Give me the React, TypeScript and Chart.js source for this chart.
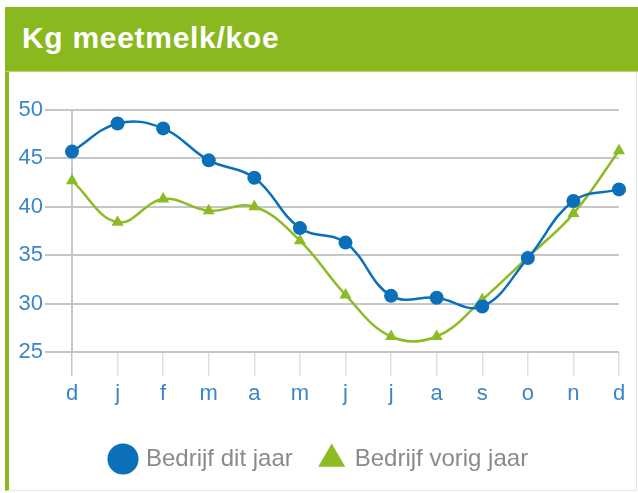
import React, { useEffect, useRef } from "react";
import { Chart, registerables } from "chart.js";

Chart.register(...registerables);

const months = ["d", "j", "f", "m", "a", "m", "j", "j", "a", "s", "o", "n", "d"];
const ditJaar = [45.7, 48.6, 48.1, 44.8, 43.0, 37.8, 36.3, 30.8, 30.6, 29.7, 34.7, 40.6, 41.8];
const vorigJaar = [42.7, 38.4, 40.8, 39.6, 40.0, 36.5, 30.9, 26.6, 26.6, 30.4, 34.8, 39.3, 45.8];
const yTicks = [25, 30, 35, 40, 45, 50];
const seriesNames = ["Bedrijf dit jaar", "Bedrijf vorig jaar"];
const title = "Kg meetmelk/koe";

const BLUE = "#0b6fba";
const GREEN = "#8cbb24";
const HEADER_GREEN = "#8ab81f";
const TICK_BLUE = "#3a86c8";
const FONT = "'Liberation Sans', Arial, Helvetica, sans-serif";

const legendPlacer = {
  id: "legendPlacer",
  afterLayout(chart: any) {
    const lg = chart.legend;
    if (!lg) return;
    const pad = lg.options.labels.padding;
    const w = lg.width;
    const h = lg.height;
    lg.left = 103 - pad;
    lg.right = lg.left + w;
    lg.top = 375 - pad;
    lg.bottom = lg.top + h;
  },
};

export default function App() {
  const ref = useRef<HTMLCanvasElement | null>(null);

  useEffect(() => {
    if (!ref.current) return;
    const chart = new Chart(ref.current, {
      type: "line",
      data: {
        labels: months,
        datasets: [
          {
            label: seriesNames[0],
            data: ditJaar,
            borderColor: BLUE,
            backgroundColor: BLUE,
            borderWidth: 2.5,
            tension: 0.4,
            pointStyle: "circle",
            pointRadius: 7,
            pointBorderWidth: 0,
            pointBackgroundColor: BLUE,
            fill: false,
          },
          {
            label: seriesNames[1],
            data: vorigJaar,
            borderColor: GREEN,
            backgroundColor: GREEN,
            borderWidth: 2.5,
            tension: 0.4,
            pointStyle: "triangle",
            pointRadius: 7,
            pointBorderWidth: 0,
            pointBackgroundColor: GREEN,
            fill: false,
          },
        ],
      },
      options: {
        animation: false,
        responsive: false,
        devicePixelRatio: 1,
        layout: { padding: { top: 38, right: 17, bottom: 0, left: 0 } },
        plugins: {
          title: { display: false },
          tooltip: { enabled: false },
          legend: {
            display: true,
            position: "bottom",
            align: "start",
            labels: {
              usePointStyle: true,
              boxWidth: 22,
              boxHeight: 22,
              padding: 28,
              color: "#8a8a8a",
              font: { family: FONT, size: 24 },
            },
          },
        },
        scales: {
          x: {
            offset: false,
            grid: {
              display: true,
              drawOnChartArea: false,
              drawTicks: true,
              tickLength: 24,
              lineWidth: 1.5,
              color: (c: any) => (c.index === 0 ? "#c4c4c4" : "#e0e0e0"),
            },
            border: { display: false },
            ticks: {
              color: TICK_BLUE,
              padding: 5,
              font: { family: FONT, size: 22 },
              maxRotation: 0,
              autoSkip: false,
            },
            afterFit: (s: any) => {
              s.height = 76;
            },
          },
          y: {
            min: 25,
            max: 50,
            grid: {
              color: "#c6c6c6",
              lineWidth: 2,
              drawTicks: true,
              tickLength: 27,
            },
            border: { display: true, color: "#c6c6c6", width: 2 },
            ticks: {
              color: TICK_BLUE,
              padding: 2,
              font: { family: FONT, size: 22 },
            },
            afterBuildTicks: (s: any) => {
              s.ticks = yTicks.map((v) => ({ value: v }));
            },
            afterFit: (s: any) => {
              s.width = 63;
            },
          },
        },
      },
      plugins: [legendPlacer],
    });
    return () => chart.destroy();
  }, []);

  return (
    <div
      style={{
        position: "absolute",
        left: 0,
        top: 0,
        width: 638,
        height: 493,
        background: "#ffffff",
        overflow: "hidden",
      }}
    >
      <div
        style={{
          position: "absolute",
          left: 5,
          top: 7,
          width: 633,
          height: 65,
          background: HEADER_GREEN,
          borderBottom: "1px solid #b9d66a",
          boxSizing: "border-box",
        }}
      />
      <div
        style={{
          position: "absolute",
          left: 22,
          top: 23,
          height: 30,
          lineHeight: "30px",
          fontSize: 30,
          fontWeight: "bold",
          letterSpacing: "0.7px",
          color: "#ffffff",
          fontFamily: FONT,
          whiteSpace: "nowrap",
        }}
      >
        {title}
      </div>
      <div
        style={{
          position: "absolute",
          left: 5,
          top: 72,
          width: 632,
          height: 419,
          borderLeft: `4px solid ${HEADER_GREEN}`,
          borderRight: "1px solid #e6e6e6",
          borderBottom: "1px solid #e3eecb",
          boxSizing: "border-box",
        }}
      />
      <div style={{ position: "absolute", left: 9, top: 72, width: 627, height: 418 }}>
        <canvas ref={ref} width={627} height={418} style={{ display: "block", width: 627, height: 418 }} />
      </div>
    </div>
  );
}
